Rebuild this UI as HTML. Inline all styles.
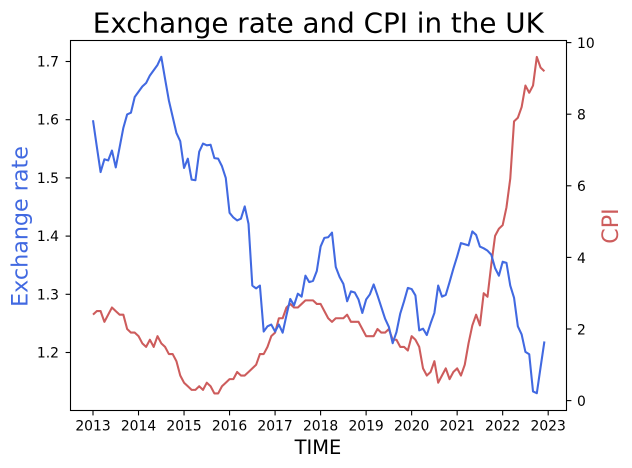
<!DOCTYPE html>
<html lang="en">
<head>
<meta charset="utf-8">
<title>Exchange rate and CPI in the UK</title>
<style>
html,body{margin:0;padding:0;background:#fff;}
svg{display:block;}
text{font-family:"DejaVu Sans","Liberation Sans",sans-serif;fill:#000;}
</style>
</head>
<body>
<svg id="chart" xmlns="http://www.w3.org/2000/svg" width="632" height="468" viewBox="0 0 632 468">
  <rect x="0" y="0" width="632" height="468" fill="#ffffff"/>
  <text x="318.3" y="32.4" font-size="27.78" text-anchor="middle">Exchange rate and CPI in the UK</text>
  <g id="series"></g>
  <g id="axes"></g>
  <rect x="70.5" y="40.5" width="496" height="370" fill="none" stroke="#000" stroke-width="1.1"/>
  <text x="318" y="454" font-size="19.44" text-anchor="middle">TIME</text>
  <text transform="translate(27.5,226.5) rotate(-90)" font-size="22.22" text-anchor="middle" style="fill:#4169e1">Exchange rate</text>
  <text transform="translate(618,226) rotate(-90)" font-size="22.22" text-anchor="middle" style="fill:#cd5c5c">CPI</text>
</svg>
<script>
const startYear = 2013;
const yearTicks = [2013, 2014, 2015, 2016, 2017, 2018, 2019, 2020, 2021, 2022, 2023];
const rateTicks = [1.2, 1.3, 1.4, 1.5, 1.6, 1.7];
const cpiTicks = [0, 2, 4, 6, 8, 10];
const exchangeRate = [
  1.599,1.554,1.510,1.532,1.530,1.547,1.518,1.552,1.586,1.609,1.612,1.639,
  1.648,1.657,1.663,1.676,1.685,1.694,1.708,1.670,1.633,1.605,1.577,1.563,
  1.517,1.533,1.497,1.496,1.545,1.559,1.556,1.557,1.534,1.533,1.520,1.500,
  1.440,1.432,1.427,1.430,1.451,1.421,1.315,1.310,1.315,1.236,1.245,1.248,
  1.236,1.248,1.234,1.264,1.292,1.281,1.301,1.296,1.332,1.321,1.323,1.340,
  1.382,1.397,1.398,1.406,1.347,1.330,1.318,1.288,1.305,1.303,1.291,1.268,
  1.291,1.300,1.317,1.298,1.278,1.258,1.244,1.216,1.235,1.267,1.288,1.311,
  1.309,1.298,1.238,1.241,1.230,1.250,1.268,1.315,1.296,1.299,1.321,1.344,
  1.365,1.388,1.386,1.384,1.408,1.402,1.382,1.379,1.375,1.368,1.345,1.332,
  1.356,1.354,1.315,1.294,1.245,1.231,1.201,1.197,1.133,1.130,1.175,1.219
];
const cpi = [
  2.4,2.5,2.5,2.2,2.4,2.6,2.5,2.4,2.4,2.0,1.9,1.9,
  1.8,1.6,1.5,1.7,1.5,1.8,1.6,1.5,1.3,1.3,1.1,0.7,
  0.5,0.4,0.3,0.3,0.4,0.3,0.5,0.4,0.2,0.2,0.4,0.5,
  0.6,0.6,0.8,0.7,0.7,0.8,0.9,1.0,1.3,1.3,1.5,1.8,
  1.9,2.3,2.3,2.6,2.7,2.6,2.6,2.7,2.8,2.8,2.8,2.7,
  2.7,2.5,2.3,2.2,2.3,2.3,2.3,2.4,2.2,2.2,2.2,2.0,
  1.8,1.8,1.8,2.0,1.9,1.9,2.0,1.7,1.7,1.5,1.5,1.4,
  1.8,1.7,1.5,0.9,0.7,0.8,1.1,0.5,0.7,0.9,0.6,0.8,
  0.9,0.7,1.0,1.6,2.1,2.4,2.1,3.0,2.9,3.8,4.6,4.8,
  4.9,5.4,6.2,7.8,7.9,8.2,8.8,8.6,8.8,9.6,9.3,9.2
];

const NS = 'http://www.w3.org/2000/svg';
function xScale(monthIndex) { return 93 + monthIndex * (544.4 - 93) / 119; }
function yearToX(year) { return xScale((year - startYear) * 12); }
function rateScale(v) { return 352.5 + (1.2 - v) * 582; }
function cpiScale(v) { return 400.6 - v * 35.8; }

function make(tag, parent, attrs, text) {
  const el = document.createElementNS(NS, tag);
  for (const k in attrs) el.setAttribute(k, attrs[k]);
  if (text !== undefined) el.textContent = text;
  parent.appendChild(el);
  return el;
}
function linePath(values, scale) {
  return values.map(function (v, i) {
    return (i ? 'L' : 'M') + xScale(i).toFixed(2) + ' ' + scale(v).toFixed(2);
  }).join(' ');
}

const series = document.getElementById('series');
const axes = document.getElementById('axes');

const cpiLine = make('path', series, {d: linePath(cpi, cpiScale), fill: 'none', stroke: '#cd5c5c', 'stroke-width': 2.08, 'stroke-linejoin': 'round'});



const rateLine = make('path', series, {d: linePath(exchangeRate, rateScale), fill: 'none', stroke: '#4169e1', 'stroke-width': 2.08, 'stroke-linejoin': 'round'});



yearTicks.forEach(function (year) {
  const x = yearToX(year);
  const mark = make('line', axes, {x1: x, x2: x, y1: 410.5, y2: 415.4, stroke: '#000', 'stroke-width': 1.1});
  
  
  const label = make('text', axes, {x: x, y: 430.5, 'font-size': 13.89, 'text-anchor': 'middle'}, String(year));
  
  
});

rateTicks.forEach(function (v) {
  const y = rateScale(v);
  const mark = make('line', axes, {x1: 65.6, x2: 70.5, y1: y, y2: y, stroke: '#000', 'stroke-width': 1.1});
  
  
  const label = make('text', axes, {x: 59, y: y + 5, 'font-size': 13.89, 'text-anchor': 'end'}, v.toFixed(1));
  
  
});

cpiTicks.forEach(function (v) {
  const y = cpiScale(v);
  const mark = make('line', axes, {x1: 566.5, x2: 571.4, y1: y, y2: y, stroke: '#000', 'stroke-width': 1.1});
  
  
  const label = make('text', axes, {x: 577, y: y + 5.4, 'font-size': 13.89, 'text-anchor': 'start'}, String(v));
  
  
});
</script>
</body>
</html>
